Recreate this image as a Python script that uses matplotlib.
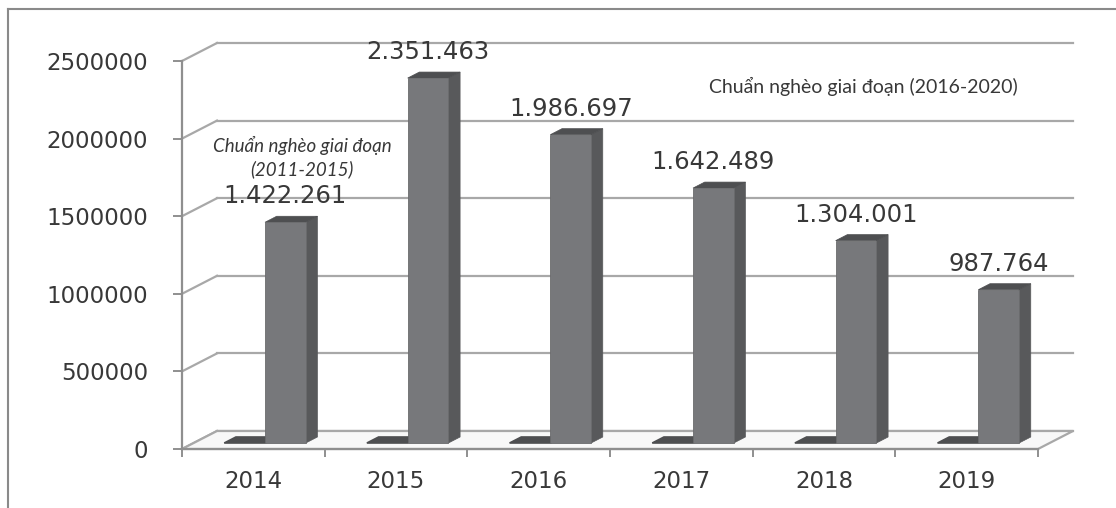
import numpy as np
import matplotlib
matplotlib.use("Agg")
import matplotlib.pyplot as plt
from matplotlib.patches import Polygon
from matplotlib.lines import Line2D

# du lieu
years = ['2014', '2015', '2016', '2017', '2018', '2019']
so_ho_ngheo = [1422261, 2351463, 1986697, 1642489, 1304001, 987764]
zero_series = [0, 0, 0, 0, 0, 0]
yticks = [0, 500000, 1000000, 1500000, 2000000, 2500000]

W, H = 1116, 508
fig = plt.figure(figsize=(W / 100, H / 100), dpi=100)

# mat phang truoc cua truc (pixel)
left_px, right_px, top_px, bot_px = 182, 1038, 61, 449
ax = fig.add_axes([left_px / W, (H - bot_px) / H,
                   (right_px - left_px) / W, (bot_px - top_px) / H])
ax.set_xlim(-0.5, 5.5)
ax.set_ylim(0, 2500000)

# vector chieu sau (pixel -> don vi du lieu)
ux = 6.0 / (right_px - left_px)
uy = 2500000.0 / (bot_px - top_px)
ddx, ddy = 35 * ux, 18 * uy

grid_c = '#a8a8a8'
axis_c = '#8f8f8f'
text_c = '#383838'

# tuong sau va luoi
for v in yticks:
    ax.plot([-0.5 + ddx, 5.5 + ddx], [v + ddy, v + ddy], color=grid_c, lw=1.6,
            clip_on=False, zorder=1)
    ax.plot([-0.5, -0.5 + ddx], [v, v + ddy], color=grid_c, lw=1.6,
            clip_on=False, zorder=1)

# san
floor = Polygon([(-0.5, 0), (5.5, 0), (5.5 + ddx, ddy), (-0.5 + ddx, ddy)],
                closed=True, facecolor='#f8f8f8', edgecolor=grid_c, lw=1.6,
                clip_on=False, zorder=2)
ax.add_patch(floor)

bw = 1 / 3.5
d1, d2 = 1 / 3, 2 / 3
front_c, side_c, top_c = '#77787b', '#58595b', '#4e4f51'

def P(x, y, d):
    return (x + ddx * d, y + ddy * d)

for i, (z, v) in enumerate(zip(zero_series, so_ho_ngheo)):
    # cot bang 0 (phang)
    x0, x1 = i - bw, i
    zp = Polygon([P(x0, z, d1), P(x1, z, d1), P(x1, z, d2), P(x0, z, d2)],
                 closed=True, facecolor=top_c, edgecolor=top_c, lw=1.2,
                 clip_on=False, zorder=3)
    ax.add_patch(zp)
    # cot chinh
    x0, x1 = i, i + bw
    side = Polygon([P(x1, 0, d1), P(x1, v, d1), P(x1, v, d2), P(x1, 0, d2)],
                   closed=True, facecolor=side_c, edgecolor=side_c, lw=0.5,
                   clip_on=False, zorder=4)
    top = Polygon([P(x0, v, d1), P(x1, v, d1), P(x1, v, d2), P(x0, v, d2)],
                  closed=True, facecolor=top_c, edgecolor=top_c, lw=0.5,
                  clip_on=False, zorder=4)
    front = Polygon([P(x0, 0, d1), P(x1, 0, d1), P(x1, v, d1), P(x0, v, d1)],
                    closed=True, facecolor=front_c, edgecolor='#6a6b6d', lw=0.6,
                    clip_on=False, zorder=5)
    ax.add_patch(side)
    ax.add_patch(top)
    ax.add_patch(front)
    lx, ly = P(i + bw / 2, v, d1)
    ax.text(lx, v + ddy * d2 + 8 * uy, f"{v:,}".replace(',', '.'),
            ha='center', va='bottom', fontsize=17.5, color=text_c,
            zorder=6, clip_on=False)

# truc
for s in ['top', 'right']:
    ax.spines[s].set_visible(False)
ax.spines['left'].set_color(axis_c)
ax.spines['bottom'].set_color(axis_c)
ax.spines['left'].set_linewidth(1.6)
ax.spines['bottom'].set_linewidth(1.6)
ax.spines['left'].set_zorder(7)
ax.spines['bottom'].set_zorder(7)
ax.patch.set_visible(False)

ax.set_yticks(yticks)
ax.set_yticklabels([str(t) for t in yticks])
ax.tick_params(axis='y', direction='out', length=6.5, width=1.4, color=axis_c,
               pad=18, labelsize=16.5, labelcolor=text_c)
ax.set_xticks(np.arange(-0.5, 6, 1))
ax.set_xticklabels([])
ax.set_xticks(np.arange(6), minor=True)
ax.set_xticklabels(years, minor=True)
ax.tick_params(axis='x', which='major', direction='out', length=6, width=1.4,
               color=axis_c)
ax.tick_params(axis='x', which='minor', length=0, pad=15, labelsize=16.5,
               labelcolor=text_c)

# chu thich
fig.text(302 / W, 1 - 157 / H, 'Chuẩn nghèo giai đoạn\n(2011-2015)',
         ha='center', va='center', fontsize=13.5, style='italic',
         family=['Lato', 'DejaVu Sans'], color=text_c, linespacing=1.3)
fig.text(863 / W, 1 - 86 / H, 'Chuẩn nghèo giai đoạn (2016-2020)',
         ha='center', va='center', fontsize=14,
         family=['Lato', 'DejaVu Sans'], color=text_c)

# khung ngoai
fig.add_artist(Line2D([8 / W, 1], [1 - 9 / H, 1 - 9 / H], color='#8a8a8a', lw=1.5))
fig.add_artist(Line2D([8 / W, 8 / W], [0, 1 - 9 / H], color='#8a8a8a', lw=1.5))

fig.savefig('out.png', dpi=100, facecolor='white')
